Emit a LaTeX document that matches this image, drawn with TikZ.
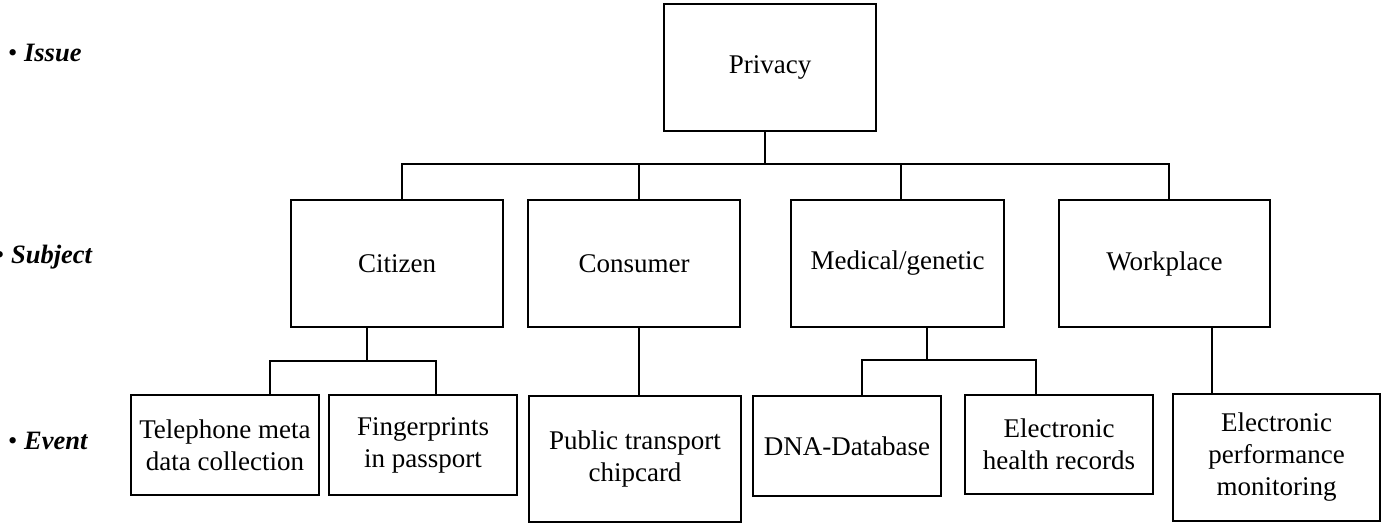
\documentclass[tikz,border=0pt]{standalone}
\usepackage{fontspec}
\setmainfont{Liberation Serif}
\begin{document}
\begin{tikzpicture}[x=1pt,y=-1pt,
  box/.style={draw=black, line width=2.5pt, inner sep=0pt, align=center,
    font=\fontsize{27}{32}\selectfont},
  link/.style={draw=black, line width=2.5pt},
  level/.style={anchor=base west, inner sep=0pt, font=\fontsize{26.5}{32}\selectfont}]
\useasboundingbox (0,0) rectangle (1382,523);

% level labels
\node[level] (lissue) at (8,61) {• \textbf{\textit{Issue}}};
\node[level] (lsubject) at (-5,263) {• \textbf{\textit{Subject}}};
\node[level] (levent) at (8,449) {• \textbf{\textit{Event}}};

% issue
\node[box, minimum width=212pt, minimum height=127pt] (privacy) at (770,67.5) {Privacy};

% subjects
\node[box, minimum width=212pt, minimum height=127pt] (citizen) at (397,263.5) {Citizen};
\node[box, minimum width=212pt, minimum height=127pt] (consumer) at (634,263.5) {Consumer};
\node[box, minimum width=213pt, minimum height=127pt] (medical) at (897.5,263.5) {Medical/genetic};
\node[box, minimum width=211pt, minimum height=127pt] (workplace) at (1164.5,263.5) {Workplace};

% events
\node[box, minimum width=188pt, minimum height=100pt] (tel) at (225,445) {Telephone meta\\data collection};
\node[box, minimum width=188pt, minimum height=100pt] (fin) at (423,445) {Fingerprints\\in passport};
\node[box, minimum width=212pt, minimum height=126pt] (pub) at (635,459) {Public transport\\chipcard};
\node[box, minimum width=188pt, minimum height=100pt] (dna) at (847,446) {DNA-Database};
\node[box, minimum width=188pt, minimum height=99pt] (ehr) at (1059,444.5) {Electronic\\health records};
\node[box, minimum width=207pt, minimum height=127pt] (epm) at (1276.5,457.5) {Electronic\\performance\\monitoring};

% junction points
\coordinate (pj) at (765,164);
\coordinate (b1) at (402,164);
\coordinate (b2) at (639,164);
\coordinate (b3) at (901,164);
\coordinate (b4) at (1169,164);
\coordinate (cj) at (367,361);
\coordinate (c1) at (270,361);
\coordinate (c2) at (436,361);
\coordinate (mj) at (927,360);
\coordinate (m1) at (862,360);
\coordinate (m2) at (1036,360);
\coordinate (wj) at (1212,330);
\coordinate (kj) at (639,330);

% issue to subjects
\draw[link] (privacy.south -| pj) -- (pj);
\draw[link] (citizen.north -| b1) -- (b1) -- (b4) -- (workplace.north -| b4);
\draw[link] (b2) -- (consumer.north -| b2);
\draw[link] (b3) -- (medical.north -| b3);

% citizen events
\draw[link] (citizen.south -| cj) -- (cj);
\draw[link] (tel.north -| c1) -- (c1) -- (c2) -- (fin.north -| c2);

% consumer event
\draw[link] (consumer.south -| kj) -- (pub.north -| kj);

% medical events
\draw[link] (medical.south -| mj) -- (mj);
\draw[link] (dna.north -| m1) -- (m1) -- (m2) -- (ehr.north -| m2);

% workplace event
\draw[link] (workplace.south -| wj) -- (epm.north -| wj);
\end{tikzpicture}
\end{document}
